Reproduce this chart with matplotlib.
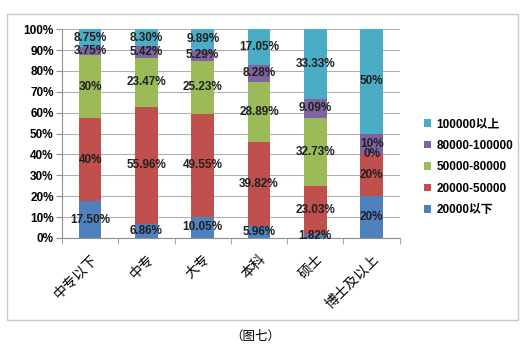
import matplotlib.pyplot as plt
import numpy as np
from matplotlib.patches import Rectangle

plt.rcParams['font.family'] = ['Liberation Sans', 'Noto Sans CJK SC', 'DejaVu Sans']

categories = ['中专以下', '中专', '大专', '本科', '硕士', '博士及以上']
series_names = ['20000以下', '20000-50000', '50000-80000', '80000-100000', '100000以上']
values = [
    [17.50, 6.86, 10.05, 5.96, 1.82, 20],
    [40, 55.96, 49.55, 39.82, 23.03, 20],
    [30, 23.47, 25.23, 28.89, 32.73, 0],
    [3.75, 5.42, 5.29, 8.28, 9.09, 10],
    [8.75, 8.30, 9.89, 17.05, 33.33, 50],
]
labels = [
    ['17.50%', '6.86%', '10.05%', '5.96%', '1.82%', '20%'],
    ['40%', '55.96%', '49.55%', '39.82%', '23.03%', '20%'],
    ['30%', '23.47%', '25.23%', '28.89%', '32.73%', '0%'],
    ['3.75%', '5.42%', '5.29%', '8.28%', '9.09%', '10%'],
    ['8.75%', '8.30%', '9.89%', '17.05%', '33.33%', '50%'],
]
colors = ['#4F81BD', '#C0504D', '#9BBB59', '#8064A2', '#4BACC6']

fig = plt.figure(figsize=(5.27, 3.51), dpi=100)
# outer chart frame
fig.patches.append(Rectangle((0.0133, 0.088), 0.97, 0.872, transform=fig.transFigure,
                             fill=False, edgecolor='#c8c8c8', linewidth=1))

ax = fig.add_axes([0.1176, 0.322, 0.641, 0.595])
x = np.arange(len(categories))
bottom = np.zeros(len(categories))
for vals, labs, name, c in zip(values, labels, series_names, colors):
    vals = np.array(vals)
    ax.bar(x, vals, 0.4, bottom=bottom, color=c, label=name, zorder=2)
    for xi, b, v, t in zip(x, bottom, vals, labs):
        ax.text(xi, b + v / 2, t, ha='center', va='center', fontsize=8.5,
                fontweight='bold', color='#202020', zorder=3)
    bottom += vals

ax.set_xlim(-0.5, len(categories) - 0.5)
ax.set_ylim(0, 100)
ax.set_yticks(np.arange(0, 101, 10))
ax.set_yticklabels([f'{v}%' for v in range(0, 101, 10)], fontsize=8.5, fontweight='bold')
ax.yaxis.grid(True, color='#b0b0b0', linewidth=0.8, zorder=0)
ax.set_xticks(x)
ax.set_xticklabels(categories, rotation=45, ha='right', rotation_mode='anchor', fontsize=10)
ax.set_xticks(np.arange(-0.5, len(categories)), minor=True)
ax.tick_params(axis='x', which='major', length=0, pad=10)
ax.tick_params(axis='x', which='minor', length=4, color='#909090')
ax.tick_params(axis='y', length=4, color='#909090', pad=2)
for side in ['top', 'right']:
    ax.spines[side].set_visible(False)
ax.spines['left'].set_color('#909090')
ax.spines['bottom'].set_color('#909090')

handles, labs = ax.get_legend_handles_labels()
leg = fig.legend(handles[::-1], labs[::-1], loc='upper left', bbox_to_anchor=(0.785, 0.693),
                 frameon=False, handlelength=0.6, handleheight=0.6,
                 handletextpad=0.4, labelspacing=0.8, prop={'weight': 'bold', 'size': 8.5})

fig.text(0.485, 0.04, '（图七）', ha='center', va='center', fontsize=9)

fig.savefig('out.png', dpi=100)
